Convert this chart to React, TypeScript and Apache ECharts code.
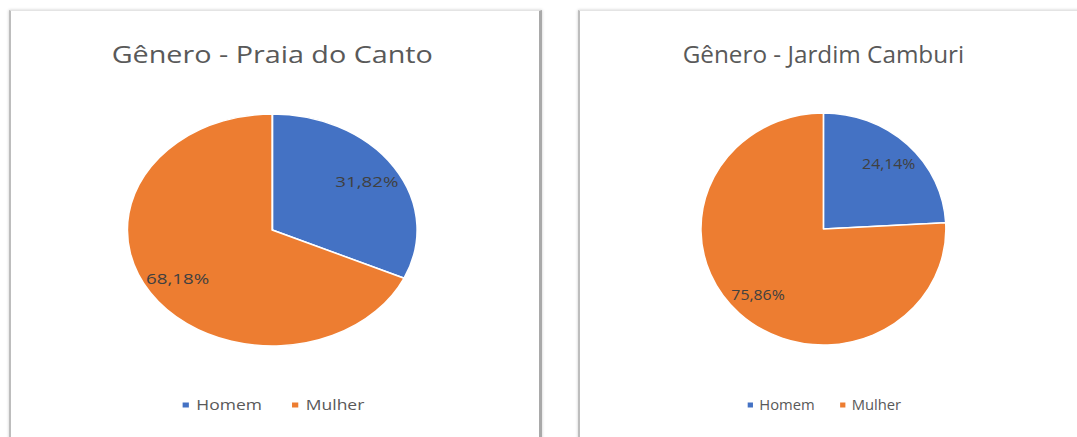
import React, { useEffect, useRef } from "react";
import * as echarts from "echarts";

const categories = ["Homem", "Mulher"];
const praiaValues = [31.82, 68.18];
const camburiValues = [24.14, 75.86];
const titlePraia = "Gênero - Praia do Canto";
const titleCamburi = "Gênero - Jardim Camburi";
const colors = ["#4472C4", "#ED7D31"];

const FONT = "'Open Sans', 'Noto Sans', sans-serif";

type PieProps = {
  title: string;
  values: number[];
  width: number;
  height: number;
  cx: number;
  cy: number;
  radius: number;
  scale: number;
};

function PieChart({ title, values, width, height, cx, cy, radius, scale }: PieProps) {
  const ref = useRef<HTMLDivElement>(null);
  useEffect(() => {
    if (!ref.current) return;
    const chart = echarts.init(ref.current, undefined, { renderer: "svg" });
    const data = categories.map((name, i) => ({
      name,
      value: values[i],
      itemStyle: { color: colors[i] },
    }));
    chart.setOption({
      animation: false,
      backgroundColor: "#ffffff",
      title: {
        text: title,
        left: "center",
        top: 27,
        textStyle: { fontFamily: FONT, fontSize: 23, fontWeight: "normal", color: "#595959" },
      },
      legend: {
        data: categories,
        top: 382,
        left: "center",
        icon: "rect",
        itemWidth: 7,
        itemHeight: 7,
        itemGap: 22,
        textStyle: { fontFamily: FONT, fontSize: 14, color: "#595959" },
      },
      series: [
        {
          type: "pie",
          radius: radius,
          center: [cx, cy],
          startAngle: 90,
          clockwise: true,
          silent: true,
          data,
          label: { show: false },
          labelLine: { show: false },
          itemStyle: { borderColor: "#ffffff", borderWidth: 1.5 },
        },
        {
          type: "pie",
          radius: [radius * 0.5, radius],
          center: [cx, cy],
          startAngle: 90,
          clockwise: true,
          silent: true,
          data: categories.map((name, i) => ({ name, value: values[i] })),
          itemStyle: { color: "rgba(0,0,0,0)" },
          label: {
            show: true,
            position: "inside",
            fontFamily: FONT,
            fontSize: 15,
            color: "#404040",
            formatter: (p: any) => p.value.toFixed(2).replace(".", ",") + "%",
          },
          labelLine: { show: false },
        },
      ],
    });
    return () => chart.dispose();
  }, [title, values, width, height, cx, cy, radius]);
  return (
    <div
      ref={ref}
      style={{
        width,
        height,
        transform: `scaleX(${scale})`,
        transformOrigin: "0 0",
      }}
    />
  );
}

const panelStyle: React.CSSProperties = {
  position: "absolute",
  top: 10,
  height: 440,
  background: "#fff",
  borderTop: "1px solid #e4e4e4",
  borderLeft: "2px solid #bdbdbd",
  borderRight: "3px solid #a9a9a9",
  boxShadow: "0 0 3px rgba(0,0,0,0.2)",
  overflow: "hidden",
};

export default function App() {
  return (
    <div
      style={{
        position: "fixed",
        left: 0,
        top: 0,
        width: 1077,
        height: 437,
        overflow: "hidden",
        background: "#fff",
      }}
    >
      <div style={{ ...panelStyle, left: 9, width: 528 }}>
        <PieChart
          title={titlePraia}
          values={praiaValues}
          width={418}
          height={427}
          cx={209}
          cy={219}
          radius={116}
          scale={1.25}
        />
      </div>
      <div style={{ ...panelStyle, left: 578, width: 510 }}>
        <PieChart
          title={titleCamburi}
          values={camburiValues}
          width={461}
          height={427}
          cx={230.5}
          cy={218}
          radius={116}
          scale={1.056}
        />
      </div>
    </div>
  );
}
